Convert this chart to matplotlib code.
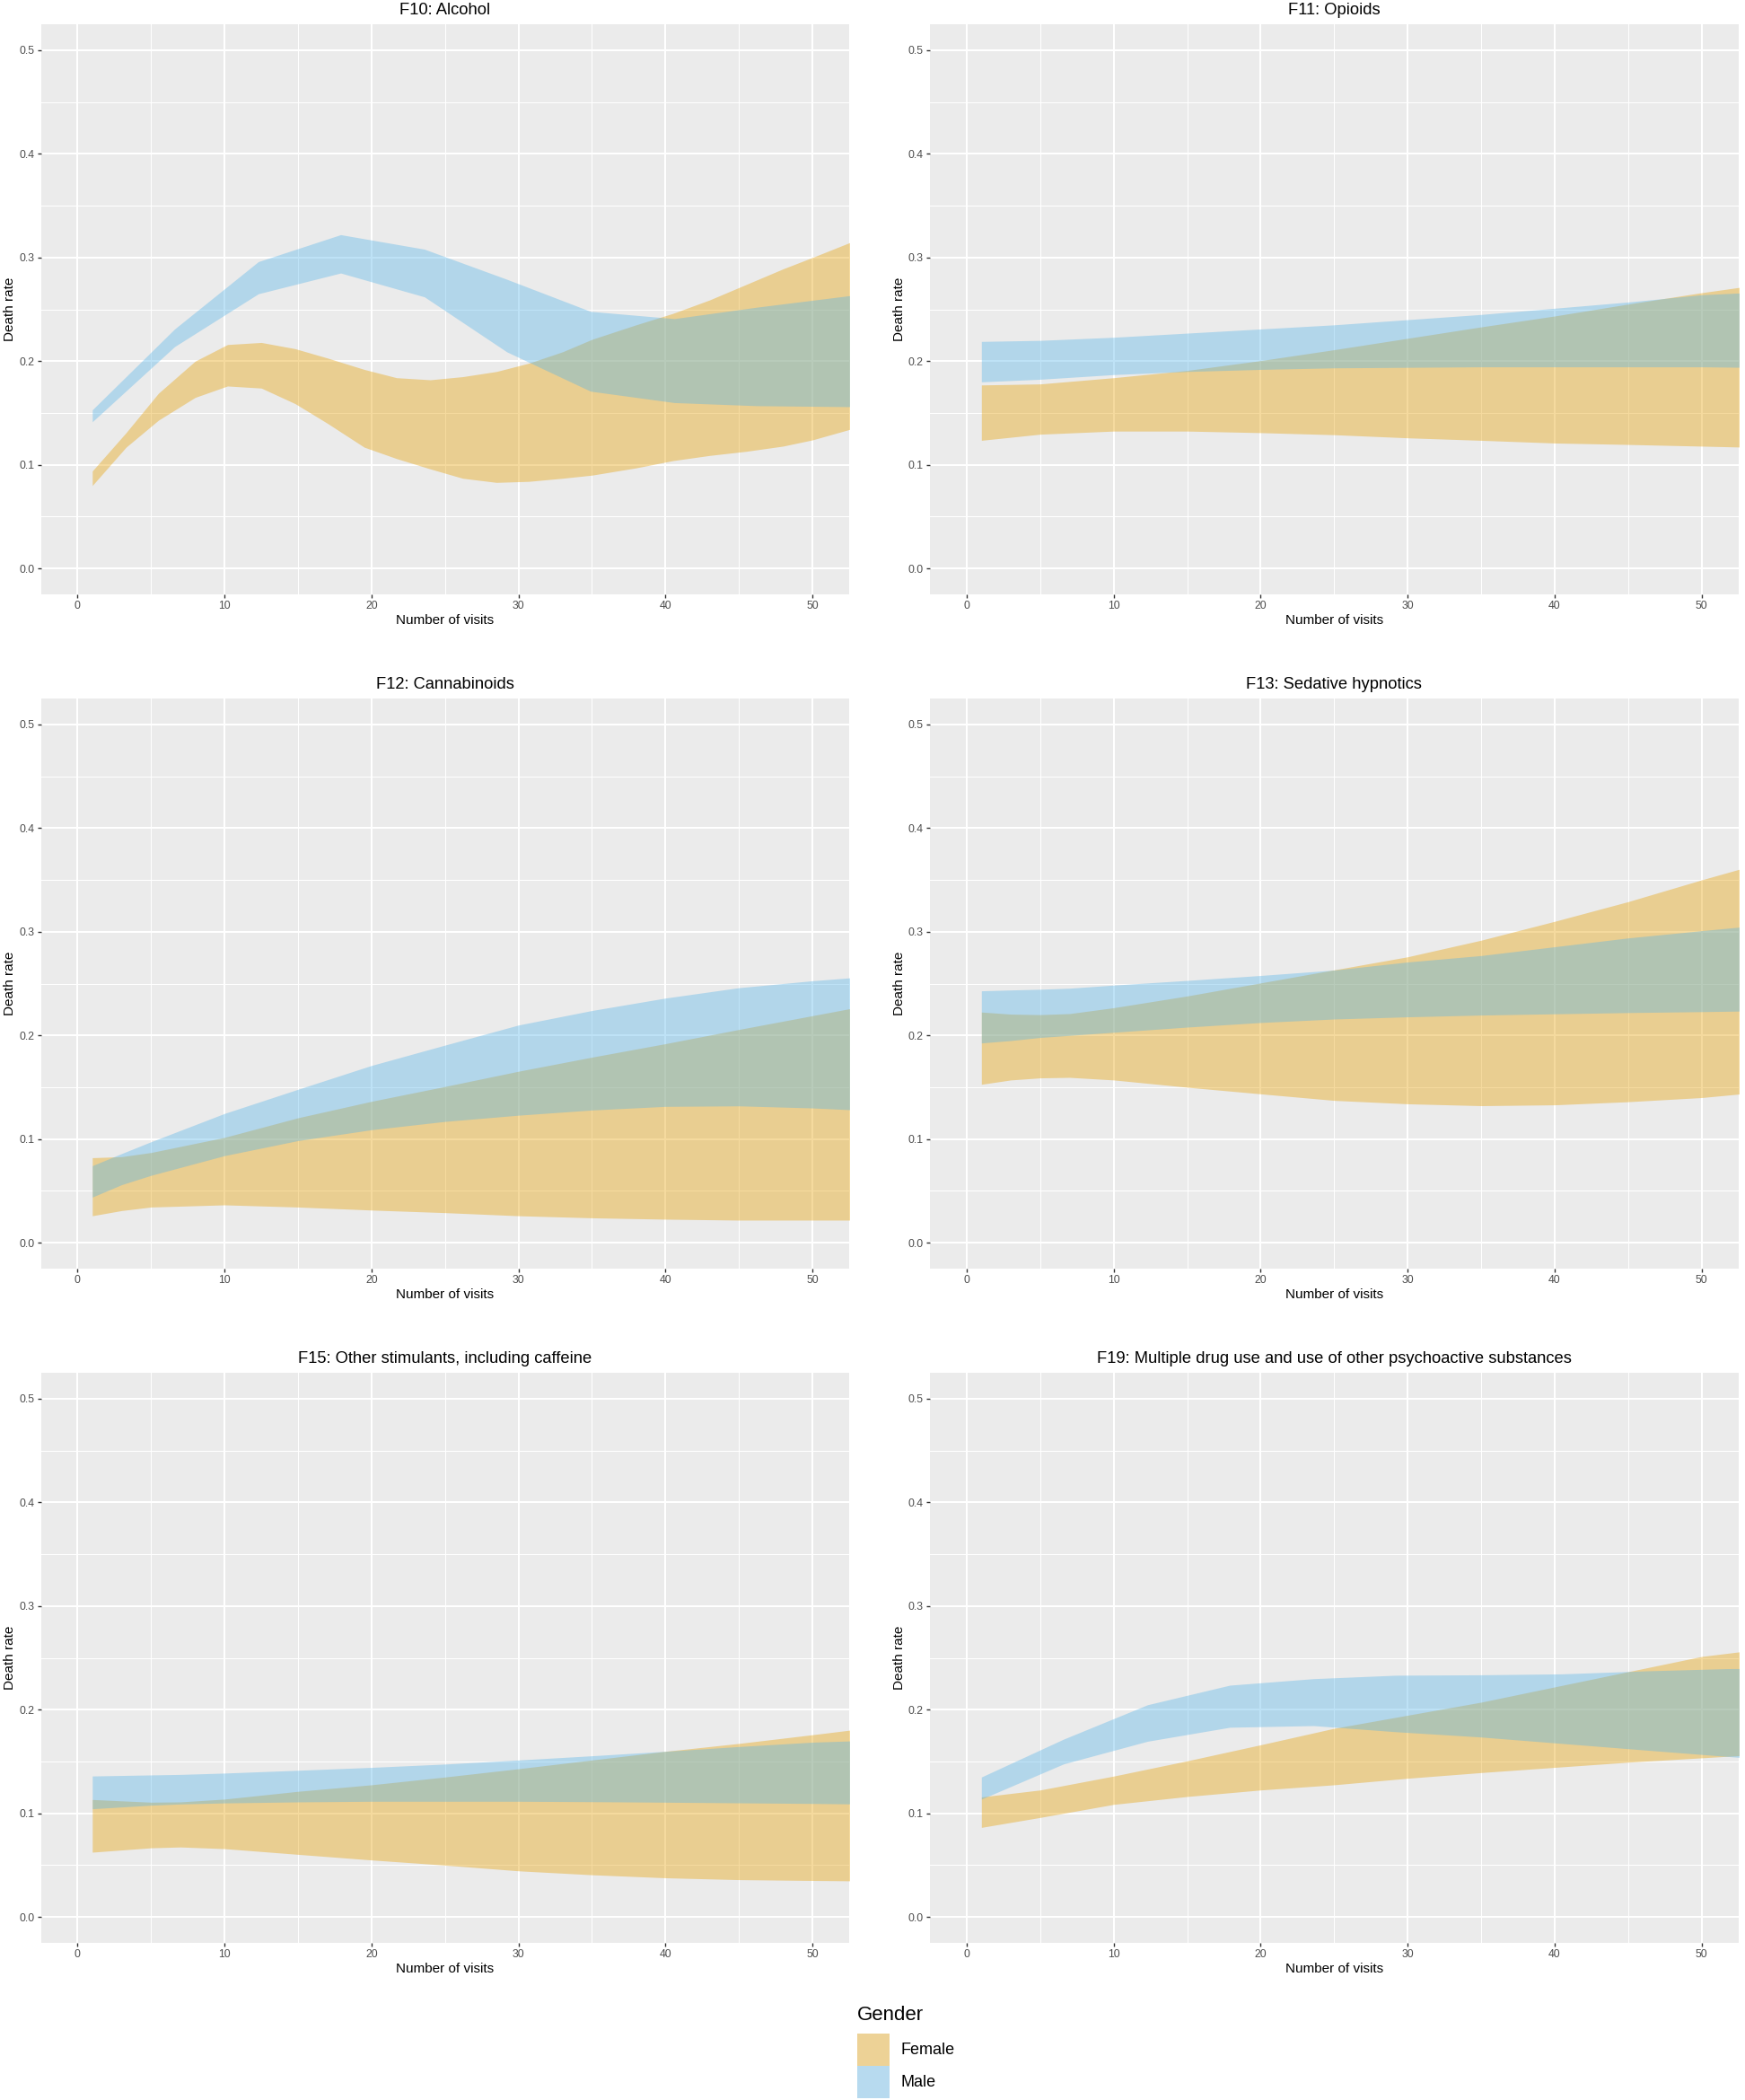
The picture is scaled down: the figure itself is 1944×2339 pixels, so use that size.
import matplotlib
matplotlib.use('Agg')
import matplotlib.pyplot as plt
from matplotlib.patches import Patch
from matplotlib.ticker import FormatStrFormatter

plt.rcParams['font.family'] = ['Liberation Sans', 'DejaVu Sans']

# ---- data: ribbons (lower / upper) per gender ----
# F10: Alcohol
f10_x_f = [1, 3.3, 5.5, 8, 10.2, 12.5, 14.8, 17, 19.5, 21.7, 24, 26.2, 28.5, 30.7, 33, 35, 38, 40.5, 43, 45.5, 48, 50, 53]
f10_f_hi = [0.094, 0.131, 0.169, 0.200, 0.216, 0.218, 0.212, 0.203, 0.192, 0.184, 0.182, 0.185, 0.190, 0.198, 0.209, 0.221, 0.235, 0.246, 0.259, 0.274, 0.289, 0.300, 0.317]
f10_f_lo = [0.080, 0.117, 0.143, 0.165, 0.176, 0.174, 0.159, 0.140, 0.117, 0.106, 0.096, 0.087, 0.083, 0.084, 0.087, 0.090, 0.097, 0.104, 0.109, 0.113, 0.118, 0.124, 0.136]
f10_x_m = [1, 6.6, 12.3, 17.9, 23.6, 29.2, 34.9, 40.6, 46.2, 53]
f10_m_hi = [0.153, 0.231, 0.296, 0.322, 0.308, 0.279, 0.248, 0.241, 0.252, 0.264]
f10_m_lo = [0.1415, 0.214, 0.265, 0.285, 0.262, 0.209, 0.171, 0.160, 0.157, 0.156]

# F11: Opioids
f11_x = [1, 5, 10, 15, 20, 25, 30, 35, 40, 45, 50, 53]
f11_f_hi = [0.177, 0.178, 0.184, 0.191, 0.2005, 0.211, 0.222, 0.233, 0.2435, 0.255, 0.266, 0.272]
f11_f_lo = [0.1236, 0.1295, 0.1325, 0.1325, 0.131, 0.129, 0.126, 0.1236, 0.121, 0.1196, 0.118, 0.117]
f11_m_hi = [0.219, 0.220, 0.223, 0.227, 0.231, 0.235, 0.240, 0.245, 0.251, 0.257, 0.264, 0.266]
f11_m_lo = [0.180, 0.1825, 0.187, 0.190, 0.192, 0.1935, 0.194, 0.1945, 0.1945, 0.1945, 0.1945, 0.194]

# F12: Cannabinoids
f12_x = [1, 3, 5, 10, 15, 20, 25, 30, 35, 40, 45, 50, 53]
f12_f_hi = [0.082, 0.083, 0.087, 0.1016, 0.1205, 0.1364, 0.1507, 0.1654, 0.179, 0.192, 0.2057, 0.219, 0.227]
f12_f_lo = [0.026, 0.031, 0.0344, 0.0365, 0.0344, 0.0315, 0.029, 0.026, 0.024, 0.0227, 0.0218, 0.0218, 0.0218]
f12_m_hi = [0.0743, 0.086, 0.0974, 0.1247, 0.148, 0.171, 0.1906, 0.210, 0.224, 0.236, 0.246, 0.2527, 0.256]
f12_m_lo = [0.044, 0.056, 0.065, 0.084, 0.0985, 0.109, 0.117, 0.123, 0.128, 0.1315, 0.132, 0.130, 0.128]

# F13: Sedative hypnotics
f13_x = [1, 3, 5, 7, 10, 15, 20, 25, 30, 35, 40, 45, 50, 53]
f13_f_hi = [0.2225, 0.2205, 0.220, 0.221, 0.2267, 0.238, 0.2506, 0.2632, 0.2758, 0.2918, 0.310, 0.329, 0.350, 0.362]
f13_f_lo = [0.1528, 0.157, 0.159, 0.1595, 0.157, 0.150, 0.1436, 0.1373, 0.134, 0.1322, 0.133, 0.136, 0.140, 0.144]
f13_m_hi = [0.243, 0.2438, 0.2445, 0.2455, 0.2485, 0.253, 0.2578, 0.263, 0.2708, 0.277, 0.2855, 0.294, 0.301, 0.305]
f13_m_lo = [0.1927, 0.195, 0.198, 0.200, 0.203, 0.208, 0.2124, 0.2158, 0.2179, 0.2196, 0.2208, 0.222, 0.2229, 0.2235]

# F15: Other stimulants, including caffeine
f15_x = [1, 5, 7, 10, 15, 20, 25, 30, 35, 40, 45, 50, 53]
f15_f_hi = [0.1133, 0.1107, 0.111, 0.1137, 0.1212, 0.1275, 0.135, 0.143, 0.1514, 0.1598, 0.1674, 0.1758, 0.181]
f15_f_lo = [0.0625, 0.0667, 0.0675, 0.0659, 0.0604, 0.055, 0.050, 0.0445, 0.0407, 0.0378, 0.036, 0.0352, 0.0348]
f15_m_hi = [0.136, 0.137, 0.1375, 0.1388, 0.1415, 0.1443, 0.1475, 0.1514, 0.1555, 0.1598, 0.1644, 0.1686, 0.170]
f15_m_lo = [0.1044, 0.1078, 0.109, 0.110, 0.111, 0.1116, 0.1116, 0.1116, 0.1112, 0.1107, 0.1101, 0.1095, 0.109]

# F19: Multiple drug use and use of other psychoactive substances
f19_x_f = [1, 5, 10, 15, 20, 25, 30, 35, 40, 45, 50, 53]
f19_f_hi = [0.1158, 0.1225, 0.1359, 0.1506, 0.1661, 0.182, 0.1946, 0.2072, 0.2219, 0.2366, 0.2513, 0.2565]
f19_f_lo = [0.0864, 0.096, 0.1086, 0.1162, 0.1225, 0.1275, 0.1338, 0.1393, 0.1443, 0.1493, 0.1535, 0.156]
f19_x_m = [1, 6.6, 12.3, 17.9, 23.6, 29.2, 34.9, 40.5, 46.2, 51.8, 53]
f19_m_hi = [0.135, 0.1716, 0.2047, 0.2236, 0.2299, 0.2332, 0.2336, 0.2345, 0.2374, 0.2396, 0.2397]
f19_m_lo = [0.1137, 0.1477, 0.1695, 0.183, 0.1846, 0.1787, 0.1737, 0.1674, 0.161, 0.1548, 0.1535]

titles = ['F10: Alcohol', 'F11: Opioids', 'F12: Cannabinoids', 'F13: Sedative hypnotics',
          'F15: Other stimulants, including caffeine',
          'F19: Multiple drug use and use of other psychoactive substances']

panels = [
    (f10_x_f, f10_f_lo, f10_f_hi, f10_x_m, f10_m_lo, f10_m_hi),
    (f11_x, f11_f_lo, f11_f_hi, f11_x, f11_m_lo, f11_m_hi),
    (f12_x, f12_f_lo, f12_f_hi, f12_x, f12_m_lo, f12_m_hi),
    (f13_x, f13_f_lo, f13_f_hi, f13_x, f13_m_lo, f13_m_hi),
    (f15_x, f15_f_lo, f15_f_hi, f15_x, f15_m_lo, f15_m_hi),
    (f19_x_f, f19_f_lo, f19_f_hi, f19_x_m, f19_m_lo, f19_m_hi),
]

female_col = '#E69F00'
male_col = '#56B4E9'
alpha = 0.38

W, H = 1944, 2339
fig = plt.figure(figsize=(W / 100, H / 100), dpi=100)

lefts = [45.5, 1036]
tops = [27, 778, 1529]
pw, ph = 900.5, 635

for i, (xf, flo, fhi, xm, mlo, mhi) in enumerate(panels):
    left = lefts[i % 2]
    top = tops[i // 2]
    ax = fig.add_axes([left / W, 1 - (top + ph) / H, pw / W, ph / H])
    ax.set_facecolor('#EBEBEB')
    ax.fill_between(xf, flo, fhi, color=female_col, alpha=alpha, lw=0)
    ax.fill_between(xm, mlo, mhi, color=male_col, alpha=alpha, lw=0)

    ax.set_xlim(-2.5, 52.5)
    ax.set_ylim(-0.025, 0.525)
    ax.set_xticks(range(0, 51, 10))
    ax.set_xticks(range(5, 50, 10), minor=True)
    ax.set_yticks([0.0, 0.1, 0.2, 0.3, 0.4, 0.5])
    ax.set_yticks([0.05, 0.15, 0.25, 0.35, 0.45], minor=True)
    ax.yaxis.set_major_formatter(FormatStrFormatter('%.1f'))
    ax.grid(which='major', color='white', lw=1.5)
    ax.grid(which='minor', color='white', lw=0.75)
    ax.set_axisbelow(True)
    for s in ax.spines.values():
        s.set_visible(False)
    ax.tick_params(which='major', length=3.2, width=1.0, color='#333333',
                   labelsize=8.8, labelcolor='#4D4D4D', pad=2)
    ax.tick_params(which='minor', length=0)

    ax.set_title(titles[i], fontsize=13.2, pad=8)
    ax.set_xlabel('Number of visits', fontsize=11, labelpad=2)
    ax.set_ylabel('Death rate', fontsize=11, labelpad=2)

handles = [Patch(facecolor='#EDD296', edgecolor='none', label='Female'),
           Patch(facecolor='#B7DAEF', edgecolor='none', label='Male')]
leg = fig.legend(handles=handles, title='Gender', loc='upper left',
                 bbox_to_anchor=(955 / W, 1 - 2234 / H), frameon=False,
                 fontsize=13, title_fontsize=16, handlelength=2.0, handleheight=2.7,
                 labelspacing=0.0, handletextpad=0.7, borderpad=0, borderaxespad=0,
                 alignment='left')
leg._legend_box.sep = 7  # gap between "Gender" and the keys

fig.savefig('out.png', dpi=100, facecolor='white')
